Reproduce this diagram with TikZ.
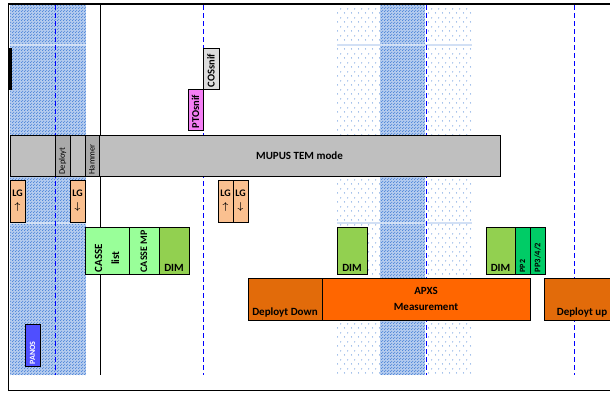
\documentclass[tikz,border=0pt]{standalone}
\usepackage{amsmath}
\usepackage{fontspec}
\setmainfont{Carlito}
\usepackage{tikz}
\usetikzlibrary{patterns.meta}

\definecolor{barGray}{HTML}{BFBFBF}
\definecolor{toolGray}{HTML}{A9A9A9}
\definecolor{cosGray}{HTML}{DDDDDD}
\definecolor{ptoPink}{HTML}{F47EF4}
\definecolor{lgPeach}{HTML}{FAC090}
\definecolor{casseGreen}{HTML}{99FF99}
\definecolor{dimGreen}{HTML}{92D050}
\definecolor{ppGreen}{HTML}{00CC66}
\definecolor{deployOrange}{HTML}{E26B0A}
\definecolor{apxsOrange}{HTML}{FF6600}
\definecolor{panosBlue}{HTML}{4F4FFF}
\definecolor{shadeBlue}{HTML}{4A84D8}
\definecolor{shadeBase}{HTML}{B4CBEE}
\definecolor{bandBlue}{HTML}{D2E0F5}

\tikzdeclarepattern{
  name=densedots,
  bottom left={(0pt,0pt)},
  top right={(3pt,3pt)},
  tile size={(3pt,3pt)},
  code={\fill (0.75pt,0.75pt) circle (0.7pt) (2.25pt,2.25pt) circle (0.7pt);}
}
\tikzdeclarepattern{
  name=sparsedots,
  bottom left={(0pt,0pt)},
  top right={(7pt,9pt)},
  tile size={(7pt,9pt)},
  code={\fill (1.75pt,2.25pt) circle (0.65pt) (5.25pt,6.75pt) circle (0.65pt);}
}

\tikzset{
  cell/.style={draw=black, line width=0.9pt, anchor=north west, inner sep=0pt, outer sep=0pt},
  vtext/.style={rotate=90, anchor=west, inner sep=1.5pt, align=center},
  guide/.style={blue, line width=0.9pt, dash pattern=on 5pt off 3pt},
  band/.style={bandBlue, line width=2pt},
  dense/.style={fill=shadeBase, postaction={pattern=densedots, pattern color=shadeBlue}},
  sparse/.style={pattern=sparsedots, pattern color=shadeBlue}
}

\begin{document}
\begin{tikzpicture}[x=1pt,y=-1pt,every node/.style={font=\bfseries\fontsize{11}{13}\selectfont}]
\useasboundingbox (0,0) rectangle (610,392);
\fill[white] (0,0) rectangle (610,392);

% shaded periods
\path[dense] (10,5) rectangle (86,375);
\path[sparse] (337,5) rectangle (380,375);
\path[dense] (380,5) rectangle (425,375);
\path[sparse] (425,5) rectangle (472,375);
\foreach \yy in {45,223}
  \draw[band] (10,\yy) -- (86,\yy) (337,\yy) -- (472,\yy);

% time marks
\foreach \xx in {55,203,426,574}
  \draw[guide] (\xx,5) -- (\xx,375);
\draw[line width=0.8pt] (100,4) -- (100,375);

% frame
\draw[line width=1.6pt] (8.5,391) -- (8.5,4) -- (610,4);
\draw[line width=1.2pt] (8,390.5) -- (610,390.5);
\draw[line width=3pt] (10,48) -- (10,90);

% MUPUS row
\node[cell, fill=barGray, minimum width=490pt, minimum height=41pt] (mupus) at (10,135) {};
\node[cell, fill=toolGray, minimum width=15pt, minimum height=41pt,
  label={[vtext, font=\fontsize{8.5}{9}\selectfont]south:Deployt}] (deployt) at (55,135) {};
\node[cell, fill=barGray, minimum width=15pt, minimum height=41pt] (pause) at (70,135) {};
\node[cell, fill=toolGray, minimum width=14pt, minimum height=41pt,
  label={[vtext, font=\fontsize{8.5}{9}\selectfont]south:Hammer}] (hammer) at (85,135) {};
\node[cell, fill=barGray, minimum width=401pt, minimum height=41pt] (temmode) at (99,135) {MUPUS TEM mode};

% sniffing
\node[cell, fill=ptoPink, minimum width=15pt, minimum height=41pt,
  label={[vtext, font=\bfseries\fontsize{10.5}{12}\selectfont]south:PTOsnif}] (ptosnif) at (188,89) {};
\node[cell, fill=cosGray, minimum width=16pt, minimum height=41pt,
  label={[vtext, font=\bfseries\fontsize{10.5}{12}\selectfont]south:COSsnif}] (cossnif) at (203,48) {};

% landing gear
\tikzset{every node/.append style={align=center}}
\node[cell, fill=lgPeach, minimum width=15pt, minimum height=42pt, font=\bfseries\fontsize{10}{13}\selectfont] (lgup) at (10,180) {LG\\$\boldsymbol{\uparrow}$};
\node[cell, fill=lgPeach, minimum width=15pt, minimum height=42pt, font=\bfseries\fontsize{10}{13}\selectfont] (lgdown) at (70,180) {LG\\$\boldsymbol{\downarrow}$};
\node[cell, fill=lgPeach, minimum width=15pt, minimum height=42pt, font=\bfseries\fontsize{10}{13}\selectfont] (lgupb) at (218,180) {LG\\$\boldsymbol{\uparrow}$};
\node[cell, fill=lgPeach, minimum width=15pt, minimum height=42pt, font=\bfseries\fontsize{10}{13}\selectfont] (lgdownb) at (233,180) {LG\\$\boldsymbol{\downarrow}$};

% CASSE / DIM / PP
\node[cell, fill=casseGreen, minimum width=44pt, minimum height=47pt,
  label={[vtext, font=\bfseries\fontsize{11}{17}\selectfont]south:CASSE\\list}] (casselist) at (85,227) {};
\node[cell, fill=casseGreen, minimum width=30pt, minimum height=47pt,
  label={[vtext, font=\bfseries\fontsize{10}{12}\selectfont]south:CASSE MP}] (cassemp) at (129,227) {};
\node[cell, fill=dimGreen, minimum width=30pt, minimum height=47pt,
  label={[anchor=south, inner sep=2pt]south:DIM}] (dima) at (159,227) {};
\node[cell, fill=dimGreen, minimum width=30pt, minimum height=47pt,
  label={[anchor=south, inner sep=2pt]south:DIM}] (dimb) at (337,227) {};
\node[cell, fill=dimGreen, minimum width=29pt, minimum height=47pt,
  label={[anchor=south, inner sep=2pt]south:DIM}] (dimc) at (486,227) {};
\node[cell, fill=ppGreen, minimum width=15pt, minimum height=47pt,
  label={[vtext, font=\bfseries\fontsize{8}{9}\selectfont]south:PP2}] (pp2) at (515,227) {};
\node[cell, fill=ppGreen, minimum width=15pt, minimum height=47pt,
  label={[vtext, font=\bfseries\fontsize{8.5}{9}\selectfont]south:PP3/4/2}] (pp342) at (530,227) {};

% APXS row
\node[cell, fill=deployOrange, minimum width=74pt, minimum height=42pt,
  label={[anchor=south, inner sep=3pt]south:Deployt Down}] (deploydown) at (248,278) {};
\node[cell, fill=apxsOrange, minimum width=208pt, minimum height=42pt, font=\bfseries\fontsize{11}{16}\selectfont] (apxs) at (322,278) {APXS\\Measurement};
\node[cell, fill=deployOrange, minimum width=76pt, minimum height=42pt,
  label={[anchor=south, inner sep=3pt]south:Deployt up}] (deployup) at (544,278) {};

% PANOS
\node[cell, fill=panosBlue, minimum width=15pt, minimum height=42pt,
  label={[vtext, text=white, font=\bfseries\fontsize{8}{9}\selectfont]south:PANOS}] (panos) at (25,324) {};
\end{tikzpicture}
\end{document}
